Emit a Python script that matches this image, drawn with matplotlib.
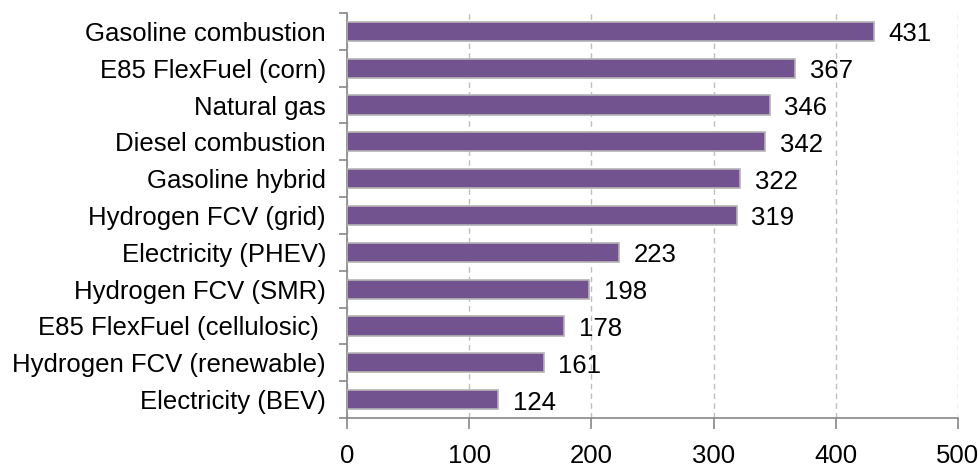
import numpy as np
import matplotlib.pyplot as plt

plt.rcParams['font.family'] = ['Liberation Sans', 'DejaVu Sans']

# vehicle pathways, bottom to top
pathways = ['Electricity (BEV)', 'Hydrogen FCV (renewable)', 'E85 FlexFuel (cellulosic) ',
            'Hydrogen FCV (SMR)', 'Electricity (PHEV)', 'Hydrogen FCV (grid)',
            'Gasoline hybrid', 'Diesel combustion', 'Natural gas',
            'E85 FlexFuel (corn)', 'Gasoline combustion']
emissions = [124, 161, 178, 198, 223, 319, 322, 342, 346, 367, 431]
x_ticks = [0, 100, 200, 300, 400, 500]

fig = plt.figure(figsize=(9.79, 4.70), dpi=100)
ax = fig.add_axes([0.3544, 0.1106, 0.6241, 0.8617])

y = np.arange(len(pathways))
ax.barh(y, emissions, height=0.52, color='#72538F', edgecolor='#B4B4B4', linewidth=1.2, zorder=3)

fs = 18.5
for yi, v in zip(y, emissions):
    ax.text(v + 12, yi - 0.08, str(v), va='center', ha='left', fontsize=fs, color='black')

ax.set_xlim(0, 500)
ax.set_ylim(-0.5, len(pathways) - 0.5)
ax.set_xticks(x_ticks)
ax.set_xticklabels([str(t) for t in x_ticks], fontsize=fs)
ax.set_yticks(y)
ax.set_yticklabels(pathways, fontsize=fs)
ax.set_yticks(np.arange(len(pathways) + 1) - 0.5, minor=True)

ax.tick_params(axis='y', which='major', length=0, pad=15)
ax.tick_params(axis='y', which='minor', length=6, width=1.2, color='#888888', direction='out')
ax.tick_params(axis='x', length=8, width=1.2, color='#888888', direction='out', pad=11)

ax.grid(axis='x', color='#BEBEBE', linestyle=(0, (4, 3)), linewidth=1, zorder=0)
for s in ['top', 'right']:
    ax.spines[s].set_visible(False)
for s in ['left', 'bottom']:
    ax.spines[s].set_color('#888888')
    ax.spines[s].set_linewidth(1.2)

fig.savefig('out.png', dpi=100)
